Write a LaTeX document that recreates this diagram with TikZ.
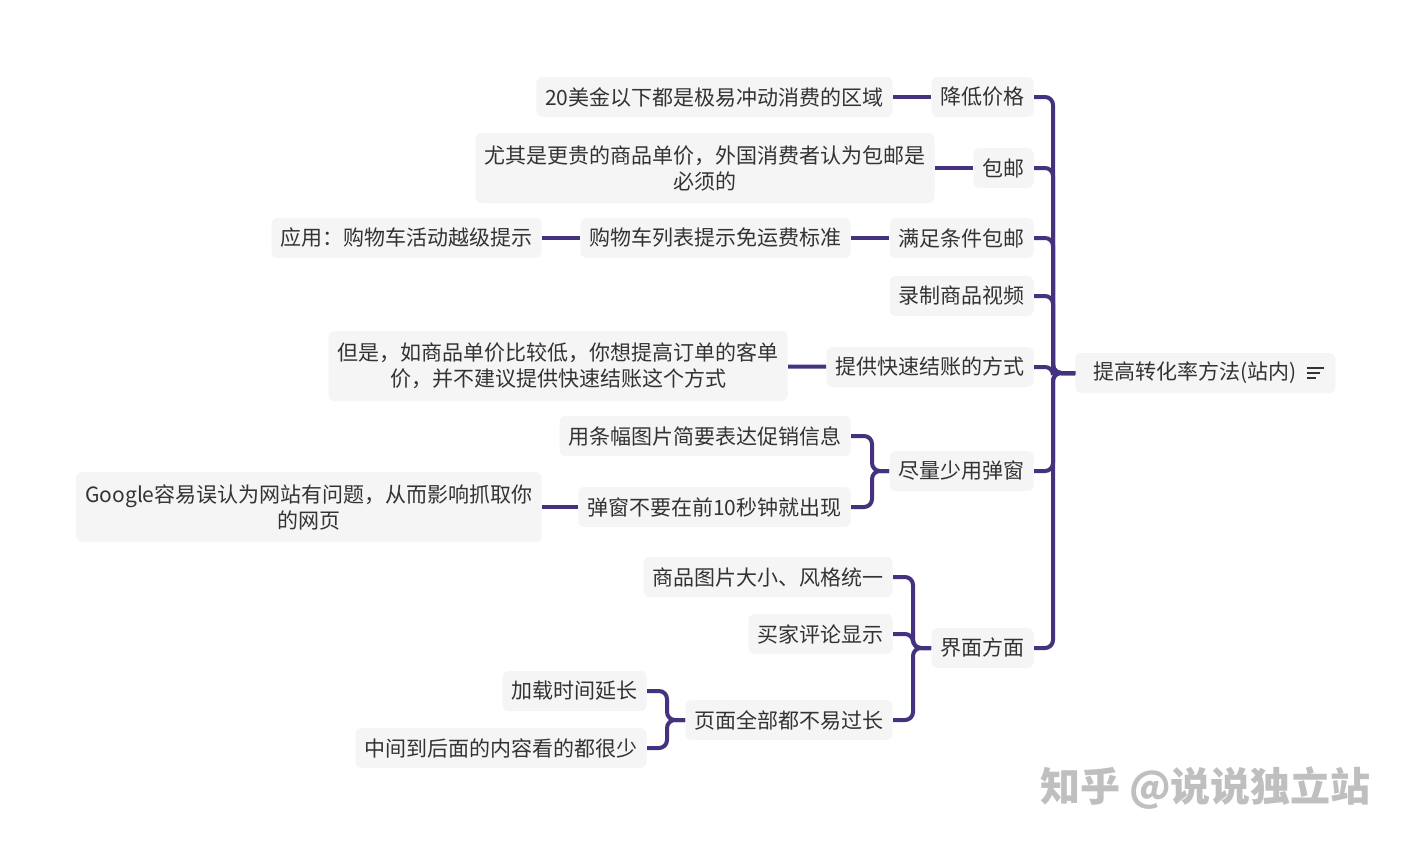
\documentclass[tikz,border=0pt]{standalone}
\usepackage{fontspec}
\setmainfont{Noto Sans CJK SC}
\definecolor{linepurple}{HTML}{45327F}
\definecolor{boxgray}{HTML}{F5F5F5}
\definecolor{txtgray}{HTML}{333333}
\tikzset{
  topic/.style={fill=boxgray, rounded corners=3pt, inner xsep=4.5pt, minimum height=20pt, text=txtgray, font=\fontsize{10.5}{13}\selectfont, align=center},
  branch/.style={draw=linepurple, line width=2pt, rounded corners=4pt},
}
\begin{document}
\begin{tikzpicture}[x=0.5pt, y=-0.5pt]
\useasboundingbox (0,0) rectangle (1411,846);
% root
\node[topic, anchor=west, minimum width=130pt, text width=112pt, align=left] (root) at (1075,373) {提高转化率方法(站内)};
\foreach \yy in {-5,0,5} \draw[txtgray, line width=0.7pt] (1307,373+\yy) -- (1324-\yy*0.8-4,373+\yy);
% main topics
\node[topic, anchor=east] (price) at (1034,97) {降低价格};
\node[topic, anchor=east] (ship) at (1034,168) {包邮};
\node[topic, anchor=east] (cond) at (1034,238) {满足条件包邮};
\node[topic, anchor=east] (video) at (1034,296) {录制商品视频};
\node[topic, anchor=east] (checkout) at (1034,367) {提供快速结账的方式};
\node[topic, anchor=east] (popup) at (1034,471) {尽量少用弹窗};
\node[topic, anchor=east] (ui) at (1034,648) {界面方面};
% details
\node[topic, anchor=east] (price1) at (893,97) {20美金以下都是极易冲动消费的区域};
\node[topic, anchor=east, minimum height=35pt] (ship1) at (935,168) {尤其是更贵的商品单价，外国消费者认为包邮是\\必须的};
\node[topic, anchor=east] (cond1) at (851,238) {购物车列表提示免运费标准};
\node[topic, anchor=east] (cond2) at (542,238) {应用：购物车活动越级提示};
\node[topic, anchor=east, minimum height=35pt] (checkout1) at (788,366) {但是，如商品单价比较低，你想提高订单的客单\\价，并不建议提供快速结账这个方式};
\node[topic, anchor=east] (popup1) at (851,436) {用条幅图片简要表达促销信息};
\node[topic, anchor=east] (popup2) at (851,507) {弹窗不要在前10秒钟就出现};
\node[topic, anchor=east, minimum height=35pt] (popup3) at (542,507) {Google容易误认为网站有问题，从而影响抓取你\\的网页};
\node[topic, anchor=east] (ui1) at (893,577) {商品图片大小、风格统一};
\node[topic, anchor=east] (ui2) at (893,634) {买家评论显示};
\node[topic, anchor=east] (ui3) at (893,720) {页面全部都不易过长};
\node[topic, anchor=east] (ui31) at (647,691) {加载时间延长};
\node[topic, anchor=east] (ui32) at (647,748) {中间到后面的内容看的都很少};
% connectors
\foreach \n in {price,ship,cond,video,checkout,popup,ui}
  \draw[branch] (\n.east) -| (1053,373) -- (root.west);
\draw[branch] (price1) -- (price);
\draw[branch] (ship1) -- (ship);
\draw[branch] (cond2) -- (cond1);
\draw[branch] (cond1) -- (cond);
\draw[branch] (checkout1) -- (checkout);
\foreach \n in {popup1,popup2}
  \draw[branch] (\n.east) -| (872,471) -- (popup.west);
\draw[branch] (popup3) -- (popup2);
\foreach \n in {ui1,ui2,ui3}
  \draw[branch] (\n.east) -| (913,648) -- (ui.west);
\foreach \n in {ui31,ui32}
  \draw[branch] (\n.east) -| (667,720) -- (ui3.west);
% watermark
\node[text=black!25, font=\fontsize{20}{24}\selectfont\bfseries, anchor=east] (mark) at (1378,788) {知乎 @说说独立站};
\end{tikzpicture}
\end{document}
